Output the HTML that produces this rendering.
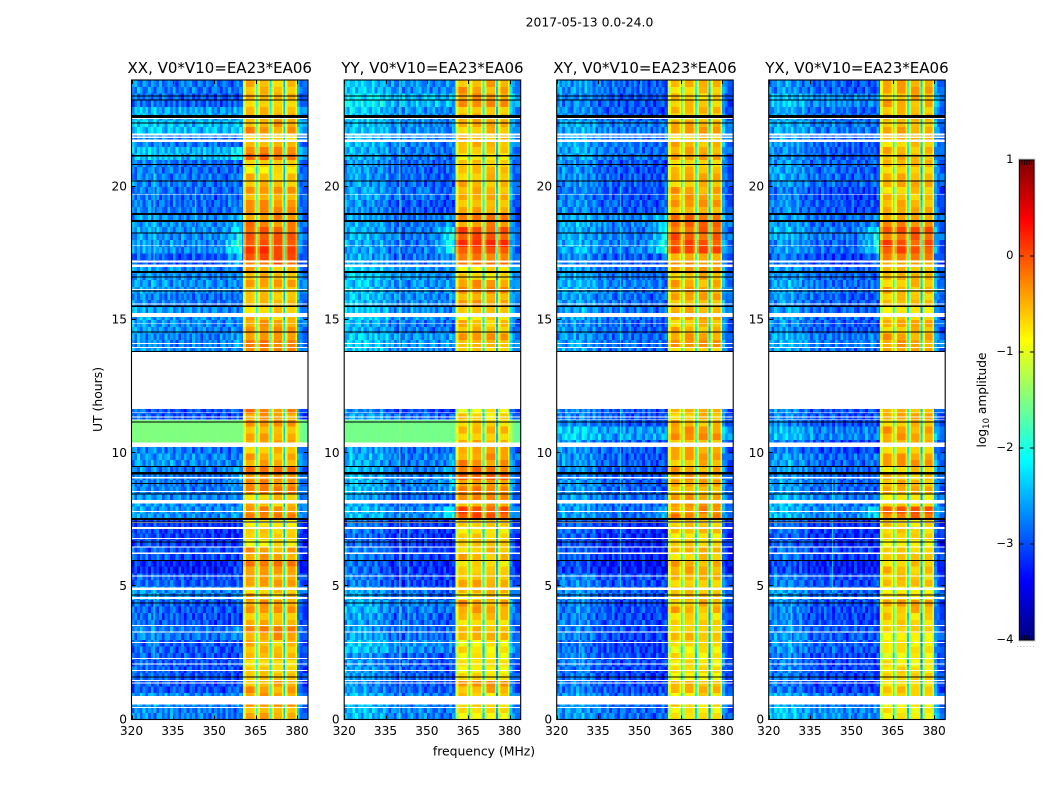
<!DOCTYPE html>
<html lang="en">
<head>
<meta charset="utf-8">
<title>2017-05-13 spectrogram</title>
<style>
html,body{margin:0;padding:0;background:#fff;}
#figure{display:block;width:1050px;height:800px;font-family:"DejaVu Sans","Liberation Sans",sans-serif;fill:#000;}
</style>
</head>
<body>
<svg id="figure" xmlns="http://www.w3.org/2000/svg" width="1050" height="800" viewBox="0 0 1050 800">
  <defs><linearGradient id="jet-gradient" x1="0" y1="1" x2="0" y2="0"></linearGradient></defs>
  <text x="589.5" y="26.5" font-size="12.4" text-anchor="middle">2017-05-13 0.0-24.0</text>
  <text x="484" y="755.5" font-size="12.4" text-anchor="middle">frequency (MHz)</text>
  <text transform="translate(102,399.5) rotate(-90)" font-size="12.4" text-anchor="middle">UT (hours)</text>
  <text transform="translate(986,400) rotate(-90)" font-size="12.2" text-anchor="middle">log<tspan font-size="8.5" dy="3">10</tspan><tspan dy="-3"> amplitude</tspan></text>
  <text x="1026" y="647" font-size="7" fill="#888" letter-spacing="0.9" text-anchor="middle">......</text>
  <g id="panels"></g>
  <g id="colorbar"></g>
</svg>
<script>
// ---- chart data (log10 amplitude, hours, MHz) ----
const panelTitles = ["XX, V0*V10=EA23*EA06","YY, V0*V10=EA23*EA06","XY, V0*V10=EA23*EA06","YX, V0*V10=EA23*EA06"];
const freqTicks = [320,335,350,365,380];
const hourTicks = [0,5,10,15,20];
const colorbarTicks = [1,0,-1,-2,-3,-4];

// Off-band background level per half hour (0.0-0.5 h first)
const bgLevelXX = [-2.77,-2.72,-3.02,-2.97,-2.97,-2.97,-2.82,-2.97,-2.97,-2.72,-2.97,-3.27,-3.02,-3.12,-3.12,-2.72,-2.72,-2.82,-2.82,-2.72,-2.82,-2.77,-3.02,-3.02,-2.92,-2.92,-2.92,-2.72,-2.77,-2.72,-2.67,-2.82,-2.67,-2.72,-3.02,-2.72,-2.72,-2.72,-2.87,-2.87,-2.82,-2.87,-2.52,-2.82,-2.47,-2.57,-2.92,-2.82];
const bgLevelYY = [-2.72,-2.72,-2.92,-2.87,-2.92,-2.67,-2.82,-2.87,-2.77,-2.82,-3.02,-3.12,-3.02,-3.12,-3.07,-2.72,-2.87,-2.72,-2.77,-2.77,-2.82,-1.82,-2.82,-3.02,-2.92,-2.92,-2.92,-2.67,-2.62,-2.77,-2.62,-2.67,-2.67,-2.62,-2.82,-2.82,-2.77,-2.82,-2.92,-2.82,-2.87,-2.87,-2.77,-2.72,-2.67,-2.62,-2.47,-2.67];
const bgLevelXY = [-2.82,-2.82,-2.97,-3.02,-2.97,-3.02,-2.97,-2.97,-2.97,-2.87,-2.97,-3.27,-3.12,-3.17,-3.12,-2.82,-2.82,-2.87,-2.92,-2.87,-2.87,-2.57,-2.92,-2.92,-2.92,-2.92,-2.92,-2.82,-2.82,-2.87,-2.77,-2.82,-2.72,-2.77,-2.92,-2.72,-2.77,-2.72,-2.92,-2.97,-2.87,-2.92,-2.77,-2.77,-2.72,-2.92,-2.92,-2.82];
const bgLevelYX = [-2.62,-2.72,-3.02,-2.97,-2.97,-2.87,-2.87,-2.97,-2.92,-2.82,-2.97,-3.22,-3.02,-3.12,-3.07,-2.67,-2.72,-2.82,-2.82,-2.82,-2.97,-2.67,-2.92,-2.92,-2.92,-2.92,-2.92,-2.77,-2.72,-2.87,-2.82,-2.87,-2.77,-2.82,-3.02,-2.82,-2.72,-2.82,-2.92,-2.97,-2.82,-2.82,-2.87,-2.82,-2.72,-2.82,-2.62,-2.87];

// In-band (360-380 MHz) level per half hour
const bandLevelXX = [-0.5,-0.45,-0.45,-0.7,-0.65,-0.6,-0.35,-0.55,-0.45,-0.6,-0.5,-0.3,-0.45,-0.75,-0.7,-0.35,-0.6,-0.35,-0.25,-0.5,-0.55,-0.5,-0.45,-0.3,-0.6,-0.6,-0.6,-0.4,-0.3,-0.45,-0.6,-0.65,-0.5,-0.55,-0.1,0.05,-0.15,-0.3,-0.4,-0.45,-0.6,-0.75,-0.2,-0.65,-0.4,-0.6,-0.6,-0.6];
const bandLevelYY = [-0.8,-0.7,-0.45,-0.75,-0.85,-0.8,-0.6,-0.65,-0.45,-0.6,-0.5,-0.75,-0.55,-0.7,-0.7,-0.05,-0.4,-0.3,-0.2,-0.35,-0.55,-0.6,-0.7,-0.8,-0.7,-0.7,-0.7,-0.7,-0.45,-0.6,-0.7,-0.45,-0.4,-0.7,-0.3,0.05,-0.05,-0.3,-0.5,-0.55,-0.55,-0.65,-0.7,-0.55,-0.55,-0.55,-0.4,-0.45];
const bandLevelXY = [-0.85,-0.7,-0.6,-0.8,-0.8,-0.8,-0.6,-0.75,-0.5,-0.65,-0.6,-0.5,-0.6,-0.7,-0.65,-0.3,-0.45,-0.5,-0.45,-0.5,-0.5,-0.4,-0.55,-0.6,-0.6,-0.6,-0.6,-0.6,-0.45,-0.55,-0.55,-0.5,-0.5,-0.5,-0.4,-0.05,-0.1,-0.2,-0.45,-0.45,-0.55,-0.6,-0.5,-0.55,-0.5,-0.6,-0.65,-0.6];
const bandLevelYX = [-0.85,-0.8,-0.65,-0.75,-0.85,-0.85,-0.75,-0.7,-0.5,-0.75,-0.65,-0.6,-0.7,-0.75,-0.7,-0.15,-0.7,-0.55,-0.6,-0.45,-0.6,-0.45,-0.55,-0.6,-0.6,-0.6,-0.6,-0.55,-0.45,-0.55,-0.7,-0.65,-0.55,-0.6,-0.35,-0.05,-0.1,-0.35,-0.55,-0.6,-0.55,-0.6,-0.55,-0.6,-0.5,-0.6,-0.5,-0.5];

// Background tilt per 2 MHz span, 320-360 MHz
const bgTiltXX = [0.1,0.15,0.1,0.1,0.1,0.05,0.05,0.05,0,0,0,0,0,0,0,-0.05,-0.05,-0.05,-0.05,-0.05];
const bgTiltYY = [0.25,0.3,0.3,0.25,0.25,0.2,0.2,0.15,0,-0.05,-0.05,-0.05,0,0,0,-0.05,-0.05,-0.1,-0.1,-0.1];
const bgTiltXY = [0.2,0.2,0.2,0.25,0.25,0.2,0.15,0.05,0,0,-0.05,-0.05,-0.05,-0.05,-0.05,-0.05,-0.1,-0.1,-0.1,-0.1];
const bgTiltYX = [0.15,0.2,0.25,0.25,0.2,0.15,0.1,0,-0.05,-0.05,-0.05,-0.05,-0.05,-0.1,-0.1,-0.1,-0.1,-0.1,-0.1,-0.1];

// Hand-read mottling of the background, 7 rows by 20 columns
const mottleOffsets = [
  [0.2,-0.1,0.15,-0.25,0.1,0.25,-0.2,0.05,-0.3,0.15,0.2,-0.15,0.05,-0.25,0.3,-0.1,0.1,-0.2,0.15,-0.05],
  [-0.2,0.25,-0.05,0.1,-0.3,0.05,0.2,-0.25,0.15,-0.1,-0.2,0.3,-0.15,0.1,-0.05,0.2,-0.3,0.1,-0.1,0.2],
  [0.05,-0.25,0.3,0.1,-0.1,-0.2,0.1,0.25,-0.05,-0.3,0.15,0,0.25,-0.2,0.05,-0.15,0.2,0.05,-0.25,0.1],
  [0.3,0.1,-0.2,-0.15,0.25,0,-0.3,0.15,0.2,0.05,-0.25,0.1,-0.1,0.3,-0.2,0.05,-0.05,0.25,0,-0.2],
  [-0.1,-0.3,0.05,0.25,-0.05,0.15,0.25,-0.1,-0.25,0.2,0.05,-0.2,0.2,0,-0.15,0.3,-0.2,-0.05,0.2,0.05],
  [0.1,0.2,-0.25,0,0.2,-0.3,0.05,0.1,0.25,-0.15,-0.05,0.25,-0.3,0.15,0.1,-0.25,0.15,0.2,-0.1,-0.15],
  [-0.25,0.05,0.15,-0.1,-0.2,0.3,-0.1,-0.15,0.05,0.25,-0.1,-0.05,0.15,-0.1,0.25,0,-0.1,-0.15,0.3,0]
];

// Band column edges (MHz) and each column's offset from the band level
const bandEdges = [360.4,361.5,362.5,363.5,364.6,365.1,365.7,366.6,368,369.6,370.1,370.8,371.6,373,374.6,375.1,375.7,376.6,378,379.4,380];
const bandOffsets = [-0.4,0.05,0.05,0,-0.35,-1.35,-0.4,0.05,0.05,-0.35,-1.5,-0.4,0.05,0.05,-0.35,-1.8,-0.4,0.05,0.05,-0.4];
// Row-to-row banding inside each of the four bright blocks
const bandStripes = [
  [0.05,0.1,-0.05,0],[-0.15,-0.1,-0.1,-0.15],[0.1,0.05,0.1,0.1],[-0.05,0.1,0,-0.1],
  [0.15,0,-0.15,0.05],[-0.2,-0.15,0.05,-0.1],[0.05,0.1,0.1,0.1]
];
// Leakage of strong band power into spans below 360 MHz
const bandLeak = [0,0,0,0,0,0,0,0,0,0,0,0,0,0,0,0.05,0.15,0.35,0.55,0.85];
// Edge of the spectrum above 380 MHz
const outerEdges = [380,381,382,384];
const outerOffsets = [0.3,0,-0.1];

// Hours in which the whole background brightens to a flat level
const bgOverridePanels = [0,1];
const bgOverrideFrom = [10.3,10.3];
const bgOverrideTo = [11.15,11.15];
const bgOverrideLevels = [-1.5,-1.55];

// Narrow interference lines: panel, MHz, from hour, to hour, level
const rfiPanels = [0,0,0,1,1,2,2,3,3];
const rfiFreqs = [328,328,343,340,343,328,343,328,343];
const rfiFrom = [2.3,17,18.5,0,2,2,5,2.5,4.8];
const rfiTo = [5,21,20,24,8,4.4,20,4.4,9];
const rfiLevels = [-1.9,-1.95,-2,-1.35,-1.95,-1.9,-2.05,-1.7,-2.05];

// Flagged (blank) hours, shared by all products
const blankFrom = [0.555,0.432,1.351,1.445,1.82,2.064,2.27,2.87,3.265,3.51,4.53,4.86,5.37,6.21,6.455,6.77,7.15,7.375,7.79,8.1,8.53,9.04,10.23,11.24,11.33,11.5,11.65,13.94,14.09,14.84,15.11,15.57,16.12,16.98,17.16,17.78,19.7,21.68,21.82,21.92,22.54];
const blankTo = [0.882,0.469,1.389,1.482,1.858,2.102,2.31,2.91,3.3,3.55,4.6,4.95,5.4,6.27,6.49,6.81,7.22,7.41,7.82,8.24,8.58,9.1,10.39,11.26,11.37,11.53,13.79,13.98,14.13,14.87,15.26,15.62,16.16,17.07,17.22,17.81,19.73,21.77,21.88,22.0,22.59];
// Dropouts drawn black
const dropoutFrom = [1.57,4.35,4.65,5.94,6.64,7.4,7.48,7.53,8.45,8.83,9.19,9.48,11.14,13.79,14.53,15.49,16.06,16.59,16.76,18.24,18.68,18.94,20.19,20.81,21.12,22.37,22.58,23.23,23.38];
const dropoutTo = [1.61,4.39,4.69,5.98,6.68,7.44,7.52,7.57,8.49,8.87,9.29,9.52,11.18,13.83,14.57,15.53,16.1,16.63,16.83,18.28,18.74,19.01,20.23,20.85,21.18,22.41,22.69,23.27,23.42];

const bgLevels = [bgLevelXX,bgLevelYY,bgLevelXY,bgLevelYX];
const bandLevels = [bandLevelXX,bandLevelYY,bandLevelXY,bandLevelYX];
const bgTilts = [bgTiltXX,bgTiltYY,bgTiltXY,bgTiltYX];

// ---- layout and axis functions ----
const SVGNS = "http://www.w3.org/2000/svg";
const axesLeft = [131.5,344.2,556.7,768.7];
const axesWidth = 176.5, axesTop = 80, axesBottom = 719.5;
const freqMin = 320, freqMax = 384, hourMin = 0, hourMax = 24;
const cbarLeft = 1019.5, cbarRight = 1034, cbarTop = 160, cbarBottom = 640;
const valueMin = -4, valueMax = 1;
const binHours = 0.25;
const freqBinWidth = 1;
const bgSpanCount = 40;

function xScale(p, f) { return axesLeft[p] + (f - freqMin) * axesWidth / (freqMax - freqMin); }
function yScale(h) { return axesBottom - (h - hourMin) * (axesBottom - axesTop) / (hourMax - hourMin); }
function cbarScale(v) { return cbarBottom - (v - valueMin) * (cbarBottom - cbarTop) / (valueMax - valueMin); }
function clamp01(v) { return Math.max(0, Math.min(1, v)); }
function jet(v) {
  const t = clamp01((v - valueMin) / (valueMax - valueMin));
  const r = clamp01(1.5 - Math.abs(4 * t - 3));
  const g = clamp01(1.5 - Math.abs(4 * t - 2));
  const b = clamp01(1.5 - Math.abs(4 * t - 1));
  return "rgb(" + Math.round(r * 255) + "," + Math.round(g * 255) + "," + Math.round(b * 255) + ")";
}
function make(tag, attrs, parent) {
  const el = document.createElementNS(SVGNS, tag);
  for (const k in attrs) el.setAttribute(k, attrs[k]);
  parent.appendChild(el);
  return el;
}
function addLabel(parent, x, y, anchor, size, content) {
  const t = make("text", { x: x, y: y, "text-anchor": anchor, "font-size": size }, parent);
  t.textContent = content;
  return t;
}
function backgroundLevel(p, r, half) {
  const h = (r + 0.5) * binHours;
  for (let i = 0; i < bgOverridePanels.length; i++) {
    if (bgOverridePanels[i] === p && h >= bgOverrideFrom[i] && h <= bgOverrideTo[i]) return { level: bgOverrideLevels[i], flat: true };
  }
  return { level: bgLevels[p][half], flat: false };
}
function blockOf(f) { return f < 365 ? 0 : f < 370 ? 1 : f < 375.3 ? 2 : 3; }

const panelsRoot = document.getElementById("panels");
const totalRows = Math.round((hourMax - hourMin) / binHours);
const panelNames = ["xx","yy","xy","yx"];

panelTitles.forEach(function (title, p) {
  const group = make("g", {}, panelsRoot);
  
  
  const cells = make("g", { "shape-rendering": "crispEdges" }, group);
  
  

  function addCell(f0, f1, r, value) {
    const h0 = r * binHours, h1 = (r + 1) * binHours;
    const cell = make("rect", {
      x: xScale(p, f0).toFixed(2), y: yScale(h1).toFixed(2),
      width: (xScale(p, f1) - xScale(p, f0) + 0.3).toFixed(2),
      height: (yScale(h0) - yScale(h1) + 0.3).toFixed(2),
      fill: jet(value)
    }, cells);
    
    
  }

  for (let r = 0; r < totalRows; r++) {
    const half = Math.floor(r / 2);
    const band = bandLevels[p][half];
    const bg = backgroundLevel(p, r, half);
    const mottleRow = mottleOffsets[(r + p * 2) % mottleOffsets.length];
    const mottleScale = bg.flat ? 0.08 : 1.25;
    const tilts = bgTilts[p];
    for (let c = 0; c < bgSpanCount; c++) {
      const f0 = freqMin + c * freqBinWidth;
      const span = Math.floor(c / 2);
      const m = mottleRow[(c + p * 3 + r * 7) % mottleRow.length] * mottleScale;
      const leak = bg.flat ? 0 : bandLeak[span] * Math.max(band + 0.5, 0) * 2;
      const tilt = bg.flat ? 0 : tilts[span];
      addCell(f0, f0 + freqBinWidth, r, bg.level + tilt + m + leak);
    }
    const stripe = bandStripes[(r + p) % bandStripes.length];
    addCell(freqMin + bgSpanCount * freqBinWidth, bandEdges[0], r, bg.level);
    for (let c = 0; c < bandOffsets.length; c++) {
      const f0 = bandEdges[c], f1 = bandEdges[c + 1];
      addCell(f0, f1, r, band + bandOffsets[c] + stripe[blockOf(f0)]);
    }
    for (let c = 0; c < outerOffsets.length; c++) {
      const m = mottleRow[(c + 5 + p + r * 3) % mottleRow.length] * mottleScale * 0.6;
      addCell(outerEdges[c], outerEdges[c + 1], r, bg.level + outerOffsets[c] + m);
    }
  }

  // interference lines
  rfiPanels.forEach(function (panel, i) {
    if (panel !== p) return;
    const line = make("rect", {
      x: xScale(p, rfiFreqs[i]).toFixed(2), y: yScale(rfiTo[i]).toFixed(2), width: 1,
      height: (yScale(rfiFrom[i]) - yScale(rfiTo[i])).toFixed(2), fill: jet(rfiLevels[i]), opacity: 0.8
    }, group);
    
    
  });

  // flagged time ranges
  const flags = make("g", { "shape-rendering": "crispEdges" }, group);
  
  
  blankFrom.forEach(function (from, i) {
    const band0 = make("rect", {
      x: axesLeft[p], y: yScale(blankTo[i]).toFixed(2), width: axesWidth,
      height: (yScale(from) - yScale(blankTo[i])).toFixed(2), fill: "#fff"
    }, flags);
    
    
  });
  dropoutFrom.forEach(function (from, i) {
    const drop = make("rect", {
      x: axesLeft[p], y: yScale(dropoutTo[i]).toFixed(2), width: axesWidth,
      height: (yScale(from) - yScale(dropoutTo[i])).toFixed(2), fill: "#000"
    }, flags);
    
    
  });

  // ticks and labels
  const ticks = make("g", { stroke: "#000", "stroke-width": 1 }, group);
  
  
  const labels = make("g", {}, group);
  
  

  freqTicks.forEach(function (f) {
    const x = Math.round(xScale(p, f)) + 0.5;
    make("line", { x1: x, x2: x, y1: axesTop, y2: axesTop + 4 }, ticks);
    make("line", { x1: x, x2: x, y1: axesBottom, y2: axesBottom - 4 }, ticks);
    const t = addLabel(labels, xScale(p, f), axesBottom + 15.5, "middle", 12.2, String(f));
    
    
  });
  hourTicks.forEach(function (h) {
    const y = Math.round(yScale(h)) - 0.5;
    make("line", { x1: axesLeft[p], x2: axesLeft[p] + 4, y1: y, y2: y }, ticks);
    make("line", { x1: axesLeft[p] + axesWidth, x2: axesLeft[p] + axesWidth - 4, y1: y, y2: y }, ticks);
    const t = addLabel(labels, axesLeft[p] - 4.5, yScale(h) + 3.8, "end", 12.2, String(h));
    
    
  });

  const frame = make("rect", {
    x: axesLeft[p], y: axesTop, width: axesWidth, height: axesBottom - axesTop,
    fill: "none", stroke: "#000", "stroke-width": 1.1
  }, group);
  
  

  const titleEl = addLabel(group, axesLeft[p] + axesWidth / 2, 73, "middle", 15, title);
  
  
});

// ---- colorbar ----
const gradient = document.getElementById("jet-gradient");
for (let i = 0; i <= 16; i++) {
  make("stop", { offset: (i / 16).toFixed(4), "stop-color": jet(valueMin + (valueMax - valueMin) * i / 16) }, gradient);
}
const cbarRoot = document.getElementById("colorbar");
const halo = make("rect", {
  x: cbarLeft - 1, y: cbarTop - 1, width: cbarRight - cbarLeft + 2, height: cbarBottom - cbarTop + 2,
  fill: "none", stroke: "#ccc", "stroke-width": 1
}, cbarRoot);


const ramp = make("rect", {
  x: cbarLeft, y: cbarTop, width: cbarRight - cbarLeft, height: cbarBottom - cbarTop,
  fill: "url(#jet-gradient)", stroke: "#000", "stroke-width": 1
}, cbarRoot);


colorbarTicks.forEach(function (v) {
  const y = cbarScale(v);
  make("line", { x1: cbarLeft, x2: cbarLeft + 4, y1: y, y2: y, stroke: "#000" }, cbarRoot);
  make("line", { x1: cbarRight, x2: cbarRight - 4, y1: y, y2: y, stroke: "#000" }, cbarRoot);
  const label = addLabel(cbarRoot, cbarLeft - 6, y + 3, "end", 11.6, v < 0 ? "\u2212" + Math.abs(v) : String(v));
  
  
});
for (let i = 1; i <= 5; i++) {
  const x = cbarLeft + i * (cbarRight - cbarLeft) / 6;
  make("line", { x1: x, x2: x, y1: cbarTop, y2: cbarTop + 5, stroke: "#000", "stroke-width": 0.8 }, cbarRoot);
  make("line", { x1: x, x2: x, y1: cbarBottom, y2: cbarBottom - 5, stroke: "#000", "stroke-width": 0.8 }, cbarRoot);
}
</script>
</body>
</html>
